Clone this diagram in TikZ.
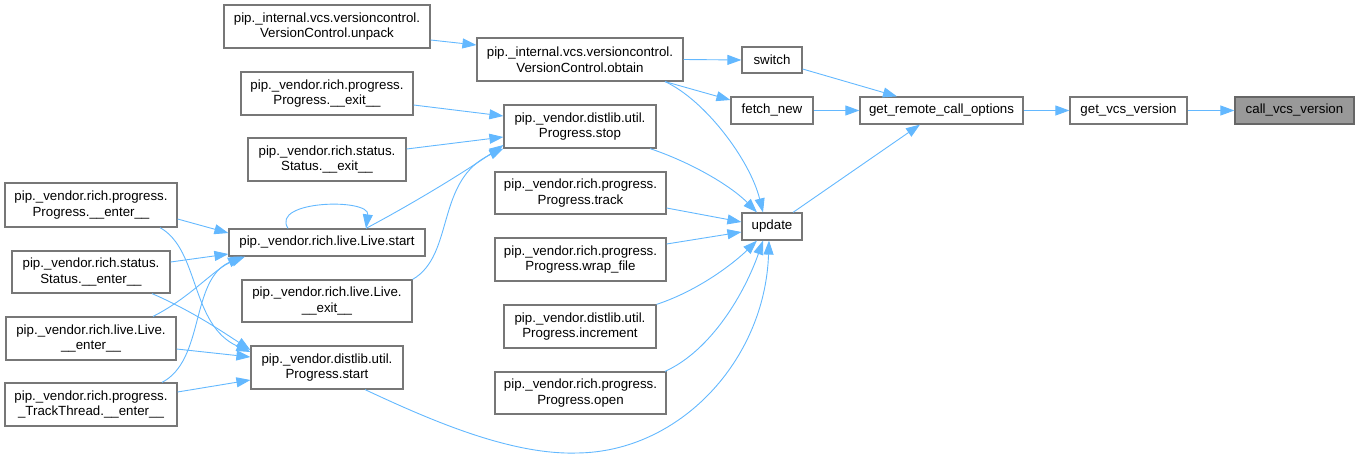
\documentclass[tikz,border=0pt]{standalone}
\usepackage{fontspec}
\setmainfont{Liberation Sans}
\usetikzlibrary{arrows.meta}
\definecolor{edgec}{HTML}{63B8FF}
\definecolor{boxc}{HTML}{777777}
\begin{document}
\begin{tikzpicture}[x=1pt,y=-1pt,
  box/.style={draw=boxc, line width=1.2pt, fill=white, inner sep=0pt, align=center,
    font=\fontsize{13.3}{15.5}\selectfont},
  edge/.style={draw=edgec, line width=0.9pt, -{Triangle[length=14pt,width=10pt]}}]
\useasboundingbox (0,0) rectangle (1359,460);
% nodes
\node[box, minimum width=206, minimum height=43] (unpack) at (327,26.5) {pip.\_internal.vcs.versioncontrol.\\VersionControl.unpack};
\node[box, minimum width=206, minimum height=43] (obtain) at (580,59.5) {pip.\_internal.vcs.versioncontrol.\\VersionControl.obtain};
\node[box, minimum width=60, minimum height=26] (switch) at (772,60) {switch};
\node[box, minimum width=82, minimum height=27] (fetch) at (772,110.5) {fetch\_new};
\node[box, minimum width=163, minimum height=27] (grco) at (941.5,110.5) {get\_remote\_call\_options};
\node[box, minimum width=117, minimum height=27] (gvv) at (1128.5,110.5) {get\_vcs\_version};
\node[box, minimum width=119, minimum height=27, fill=black!40, draw=black!60] (cvv) at (1294.5,110.5) {call\_vcs\_version};
\node[box, minimum width=172, minimum height=43] (pexit) at (327,93.5) {pip.\_vendor.rich.progress.\\Progress.\_\_exit\_\_};
\node[box, minimum width=158, minimum height=43] (sexit) at (327,159.5) {pip.\_vendor.rich.status.\\Status.\_\_exit\_\_};
\node[box, minimum width=152, minimum height=43] (stop) at (580,126.5) {pip.\_vendor.distlib.util.\\Progress.stop};
\node[box, minimum width=171, minimum height=42] (track) at (580.5,193) {pip.\_vendor.rich.progress.\\Progress.track};
\node[box, minimum width=60, minimum height=27] (update) at (772,226.5) {update};
\node[box, minimum width=171, minimum height=43] (wrap) at (580.5,259.5) {pip.\_vendor.rich.progress.\\Progress.wrap\_file};
\node[box, minimum width=152, minimum height=43] (incr) at (580,326.5) {pip.\_vendor.distlib.util.\\Progress.increment};
\node[box, minimum width=171, minimum height=42] (open) at (580.5,393) {pip.\_vendor.rich.progress.\\Progress.open};
\node[box, minimum width=172, minimum height=44] (penter) at (91,205) {pip.\_vendor.rich.progress.\\Progress.\_\_enter\_\_};
\node[box, minimum width=196, minimum height=27] (lstart) at (327,242.5) {pip.\_vendor.rich.live.Live.start};
\node[box, minimum width=158, minimum height=42] (senter) at (91,272) {pip.\_vendor.rich.status.\\Status.\_\_enter\_\_};
\node[box, minimum width=170, minimum height=42] (lexit) at (327,301) {pip.\_vendor.rich.live.Live.\\\_\_exit\_\_};
\node[box, minimum width=170, minimum height=43] (lenter) at (91,338.5) {pip.\_vendor.rich.live.Live.\\\_\_enter\_\_};
\node[box, minimum width=152, minimum height=43] (pstart) at (327,367.5) {pip.\_vendor.distlib.util.\\Progress.start};
\node[box, minimum width=172, minimum height=43] (tenter) at (91,404.5) {pip.\_vendor.rich.progress.\\\_TrackThread.\_\_enter\_\_};
% edges
\draw[edge] (unpack.east |- 0,40) -- (obtain.west |- 0,45);
\draw[edge] (obtain.east) -- (switch.west);
\draw[edge] (obtain.south east -| 665,0) -- (fetch.west |- 0,100);
\draw[edge] (obtain.south east -| 665,0) .. controls (705,100) and (750,160) .. (update.north -| 763,0);
\draw[edge] (switch.east |- 0,69) -- (grco.north -| 897,0);
\draw[edge] (fetch.east) -- (grco.west);
\draw[edge] (update.north -| 793,0) -- (grco.south -| 920,0);
\draw[edge] (grco.east) -- (gvv.west);
\draw[edge] (gvv.east) -- (cvv.west);
\draw[edge] (pexit.east |- 0,105) -- (stop.west |- 0,116);
\draw[edge] (sexit.east |- 0,149) -- (stop.west |- 0,137);
\draw[edge] (lstart.north -| 366,0) .. controls (410,205) and (460,175) .. (stop.west |- 0,145);
\draw[edge] (lexit.north east) .. controls (455,255) and (435,180) .. (stop.south west);
\draw[edge] (stop.south east -| 650,0) .. controls (690,162) and (730,185) .. (update.north -| 757,0);
\draw[edge] (track.east |- 0,208) -- (update.west |- 0,222);
\draw[edge] (wrap.east |- 0,244) -- (update.west |- 0,232);
\draw[edge] (incr.north east) .. controls (700,290) and (735,262) .. (update.south -| 757,0);
\draw[edge] (open.north east -| 665,0) .. controls (712,350) and (745,292) .. (update.south -| 763,0);
\draw[edge] (pstart.south -| 365,0) .. controls (430,420) and (510,455) .. (577,453) .. controls (680,452) and (765,360) .. (update.south -| 769,0);
\draw[edge] (lstart.north -| 288,0) .. controls (270,200) and (370,198) .. (lstart.north -| 366,0);
\draw[edge] (penter.east |- 0,219) -- (lstart.west |- 0,233);
\draw[edge] (penter.south -| 160,0) .. controls (200,250) and (190,325) .. (pstart.west |- 0,352);
\draw[edge] (senter.east |- 0,262) -- (lstart.west |- 0,254);
\draw[edge] (senter.south -| 152,0) .. controls (190,310) and (220,330) .. (pstart.west |- 0,350);
\draw[edge] (lenter.north -| 153,0) .. controls (190,298) and (215,268) .. (lstart.south -| 245,0);
\draw[edge] (lenter.east |- 0,349) -- (pstart.west |- 0,357);
\draw[edge] (tenter.north -| 162,0) .. controls (205,360) and (190,280) .. (lstart.south -| 242,0);
\draw[edge] (tenter.east |- 0,392) -- (pstart.west |- 0,380);
\end{tikzpicture}
\end{document}
